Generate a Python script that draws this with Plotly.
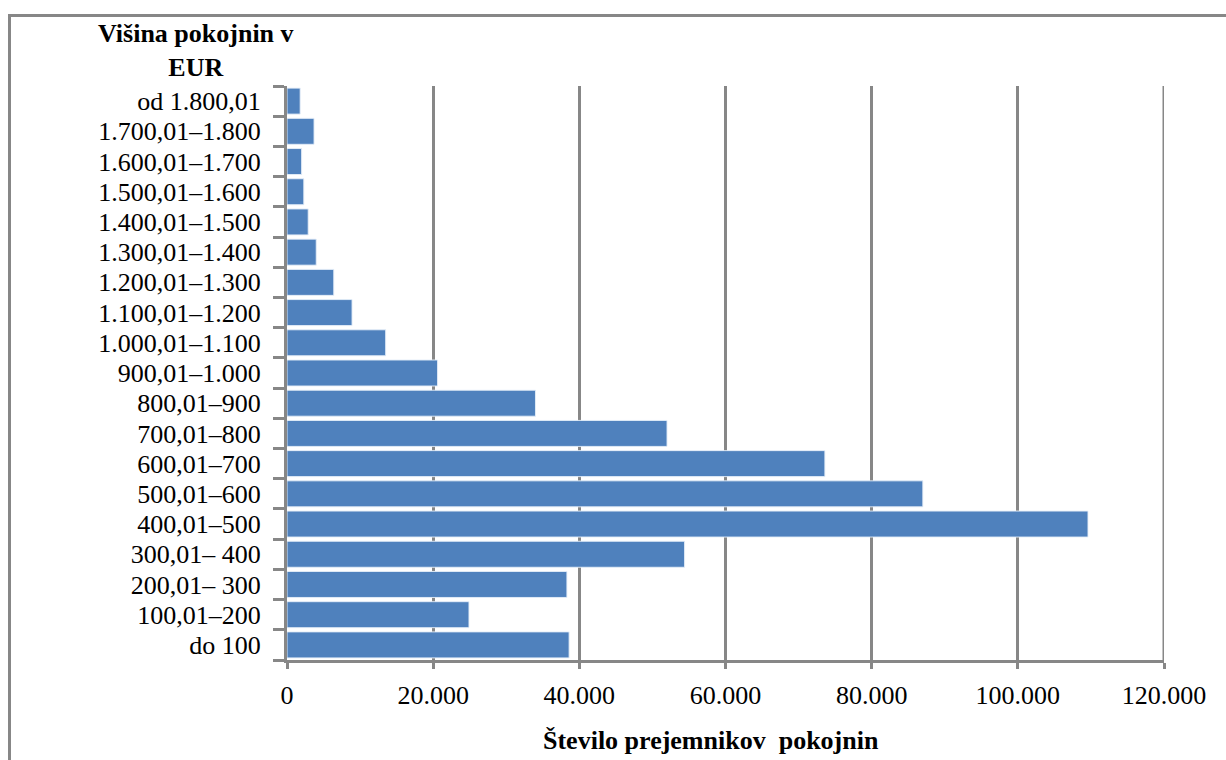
import plotly.graph_objects as go

# Pension brackets (EUR), listed from the lowest bracket upward
brackets = [
    "do 100", "100,01–200", "200,01– 300", "300,01– 400", "400,01–500",
    "500,01–600", "600,01–700", "700,01–800", "800,01–900", "900,01–1.000",
    "1.000,01–1.100", "1.100,01–1.200", "1.200,01–1.300", "1.300,01–1.400",
    "1.400,01–1.500", "1.500,01–1.600", "1.600,01–1.700", "1.700,01–1.800",
    "od 1.800,01",
]
# Number of pension recipients per bracket
recipients = [
    38600, 24900, 38300, 54400, 109600,
    87000, 73600, 52000, 34000, 20600,
    13500, 8900, 6400, 4000,
    2900, 2300, 2000, 3700,
    1800,
]
x_ticks = [0, 20000, 40000, 60000, 80000, 100000, 120000]

W, H = 1226, 760
L, R, T, B = 287, 62, 86, 100
GREY = "#878787"
SERIF = "Liberation Serif, Times New Roman, serif"

fig = go.Figure(go.Bar(
    x=recipients, y=brackets, orientation="h",
    marker=dict(color="#4F81BD", line=dict(color="rgba(230,238,248,0.9)", width=1)),
))

pw, ph = W - L - R, H - T - B
def px_x(p):
    return (p - L) / pw
def px_y(p):
    return (H - B - p) / ph

fig.update_layout(
    width=W, height=H,
    margin=dict(l=L, r=R, t=T, b=B),
    paper_bgcolor="white", plot_bgcolor="white",
    separators=",.",
    bargap=0.14,
    showlegend=False,
    font=dict(family=SERIF, color="black"),
    xaxis=dict(
        range=[0, 120000], tickvals=x_ticks, tickformat=",d",
        showgrid=True, gridcolor=GREY, gridwidth=3,
        showline=True, linecolor=GREY, linewidth=3,
        ticks="outside", ticklen=6, tickwidth=3, tickcolor=GREY,
        tickfont=dict(size=26, family=SERIF), ticklabelstandoff=4,
        zeroline=False, fixedrange=True,
    ),
    yaxis=dict(
        type="category", categoryorder="array", categoryarray=brackets,
        tickmode="array", tickvals=brackets, ticktext=brackets,
        showgrid=False, showline=True, linecolor=GREY, linewidth=3,
        ticks="outside", tickson="boundaries", ticklen=11, tickwidth=3, tickcolor=GREY,
        tickfont=dict(size=26, family=SERIF), ticklabelstandoff=18,
        zeroline=False, fixedrange=True,
    ),
    annotations=[
        dict(text="<b>Višina pokojnin v<br>EUR</b>", xref="paper", yref="paper",
             x=px_x(196), y=px_y(50), xanchor="center", yanchor="middle",
             showarrow=False, font=dict(size=26, family=SERIF)),
        dict(text="<b>Število prejemnikov  pokojnin</b>", xref="paper", yref="paper",
             x=px_x(711), y=px_y(740), xanchor="center", yanchor="middle",
             showarrow=False, font=dict(size=26, family=SERIF)),
    ],
    shapes=[
        # gridline at the right end of the value axis
        dict(type="line", xref="x", yref="paper", x0=x_ticks[-1], x1=x_ticks[-1],
             y0=0, y1=1, line=dict(color=GREY, width=3), layer="below"),
        # chart frame
        dict(type="line", xref="paper", yref="paper", x0=px_x(9.5), x1=px_x(9.5),
             y0=px_y(15), y1=px_y(800), line=dict(color=GREY, width=3)),
        dict(type="line", xref="paper", yref="paper", x0=px_x(8), x1=px_x(1240),
             y0=px_y(15.5), y1=px_y(15.5), line=dict(color=GREY, width=3)),
    ],
)

fig.write_html("out.html")
